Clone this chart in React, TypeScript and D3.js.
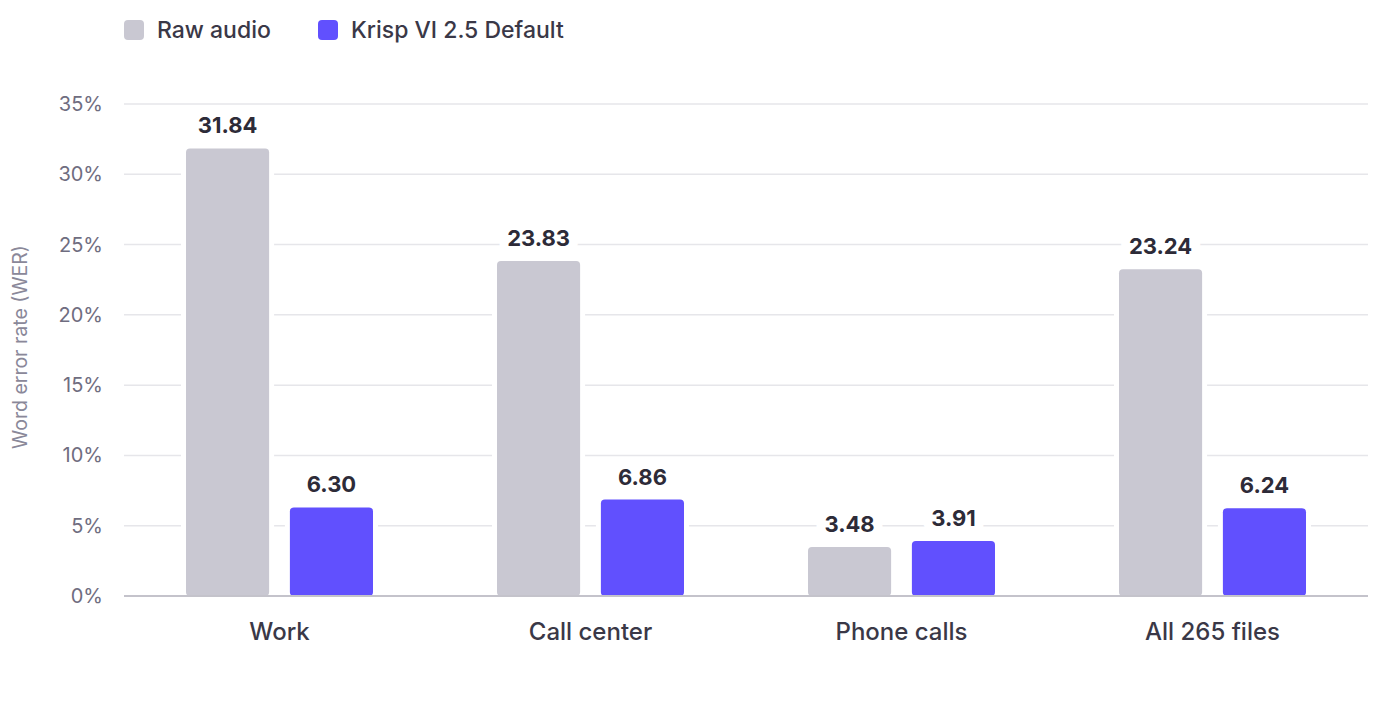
import { useEffect, useRef } from "react";
import * as d3 from "d3";

const categories = ["Work", "Call center", "Phone calls", "All 265 files"];
const seriesNames = ["Raw audio", "Krisp VI 2.5 Default"];
const rawAudio = [31.84, 23.83, 3.48, 23.24];
const krispDefault = [6.3, 6.86, 3.91, 6.24];
const yTicks = [0, 5, 10, 15, 20, 25, 30, 35];
const colors = ["#c9c8d2", "#6150fe"];

const FONT = "Inter, 'Noto Sans', sans-serif";

const App = () => {
  const svgRef = useRef<SVGSVGElement | null>(null);

  useEffect(() => {
    const width = 1400;
    const height = 712;
    const margin = { top: 104, right: 32, bottom: 116, left: 124 };

    const svg = d3.select(svgRef.current).attr("width", width).attr("height", height);
    svg.selectAll("*").remove();

    const x = d3
      .scaleBand()
      .domain(categories)
      .range([margin.left, width - margin.right])
      .paddingInner(0)
      .paddingOuter(0);

    // position of the two bars inside each category band
    const inner = d3
      .scaleBand()
      .domain(seriesNames)
      .range([62, 249])
      .paddingInner(0.2);

    const y = d3
      .scaleLinear()
      .domain([0, 35])
      .range([height - margin.bottom, margin.top]);

    const seriesData = [rawAudio, krispDefault];
    const barX = (si: number, i: number) => (x(categories[i]) ?? 0) + (inner(seriesNames[si]) ?? 0);

    // gridlines
    svg
      .append("g")
      .selectAll("line")
      .data(yTicks.filter((t) => t > 0))
      .enter()
      .append("line")
      .attr("x1", margin.left)
      .attr("x2", width - margin.right)
      .attr("y1", (d) => y(d))
      .attr("y2", (d) => y(d))
      .attr("stroke", "#e6e6ea")
      .attr("stroke-width", 1.5);

    // y tick labels
    svg
      .append("g")
      .selectAll("text")
      .data(yTicks)
      .enter()
      .append("text")
      .attr("x", 103)
      .attr("y", (d) => y(d))
      .attr("dy", "0.35em")
      .attr("text-anchor", "end")
      .attr("font-family", FONT)
      .attr("font-size", 20)
      .attr("fill", "#6f6d80")
      .text((d) => `${d}%`);

    // y title
    svg
      .append("text")
      .attr("transform", `translate(27,${(y(0) + y(35)) / 2 - 3}) rotate(-90)`)
      .attr("text-anchor", "middle")
      .attr("font-family", FONT)
      .attr("font-size", 19.5)
      .attr("fill", "#8a8899")
      .text("Word error rate (WER)");

    // white gaps around bars (hide gridlines)
    seriesData.forEach((values, si) => {
      svg
        .append("g")
        .selectAll("rect")
        .data(values)
        .enter()
        .append("rect")
        .attr("x", (_, i) => barX(si, i) - 5)
        .attr("y", (d) => y(d) - 5)
        .attr("width", inner.bandwidth() + 10)
        .attr("height", (d) => y(0) - y(d) + 5)
        .attr("fill", "#ffffff");
    });

    // bars
    seriesData.forEach((values, si) => {
      svg
        .append("g")
        .selectAll("rect")
        .data(values)
        .enter()
        .append("rect")
        .attr("x", (_, i) => barX(si, i))
        .attr("y", (d) => y(d))
        .attr("width", inner.bandwidth())
        .attr("height", (d) => y(0) - y(d))
        .attr("rx", 4)
        .attr("fill", colors[si]);
    });

    // baseline
    svg
      .append("line")
      .attr("x1", margin.left)
      .attr("x2", width - margin.right)
      .attr("y1", y(0))
      .attr("y2", y(0))
      .attr("stroke", "#c4c3cb")
      .attr("stroke-width", 2);

    // value labels
    seriesData.forEach((values, si) => {
      svg
        .append("g")
        .selectAll("text")
        .data(values)
        .enter()
        .append("text")
        .attr("x", (_, i) => barX(si, i) + inner.bandwidth() / 2)
        .attr("y", (d) => y(d) - 15)
        .attr("text-anchor", "middle")
        .attr("font-family", FONT)
        .attr("font-size", 22)
        .attr("font-weight", 700)
        .attr("fill", "#2d2b38")
        .attr("stroke", "#ffffff")
        .attr("stroke-width", 18)
        .attr("stroke-linejoin", "miter")
        .style("paint-order", "stroke")
        .text((d) => d.toFixed(2));
    });

    // category labels
    svg
      .append("g")
      .selectAll("text")
      .data(categories)
      .enter()
      .append("text")
      .attr("x", (d) => (x(d) ?? 0) + x.bandwidth() / 2)
      .attr("y", y(0) + 44)
      .attr("text-anchor", "middle")
      .attr("font-family", FONT)
      .attr("font-size", 24)
      .attr("font-weight", 500)
      .attr("fill", "#3a3847")
      .text((d) => d);

    // legend
    const legendX = [124, 318];
    const legend = svg.append("g");
    seriesNames.forEach((name, i) => {
      legend
        .append("rect")
        .attr("x", legendX[i])
        .attr("y", 20)
        .attr("width", 20)
        .attr("height", 20)
        .attr("rx", 4)
        .attr("fill", colors[i]);
      legend
        .append("text")
        .attr("x", legendX[i] + 33)
        .attr("y", 30)
        .attr("dy", "0.36em")
        .attr("font-family", FONT)
        .attr("font-size", 23)
        .attr("font-weight", 500)
        .attr("fill", "#3a3847")
        .text(name);
    });
  }, []);

  return <svg ref={svgRef} style={{ position: "absolute", left: 0, top: 0, display: "block" }}></svg>;
};

export default App;
